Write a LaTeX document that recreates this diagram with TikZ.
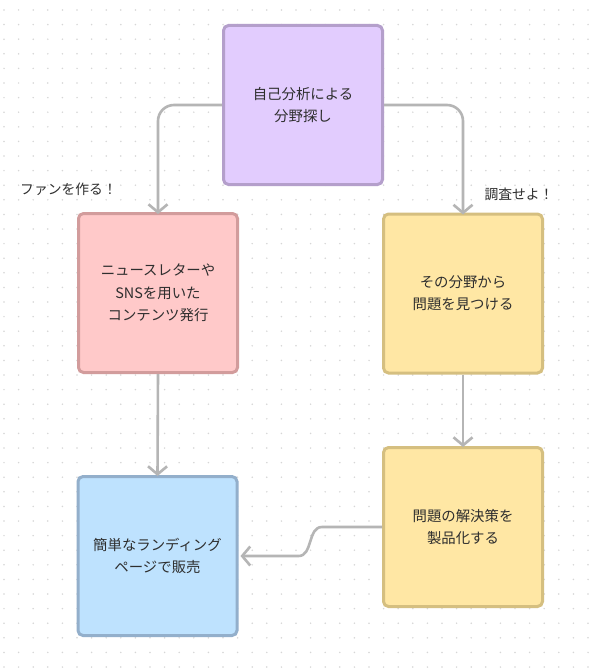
\documentclass[tikz,border=0pt]{standalone}
\usepackage{fontspec}
\setmainfont{Noto Sans CJK JP}
\usetikzlibrary{arrows.meta,calc}
\definecolor{bg}{HTML}{FFFFFF}
\definecolor{dotc}{HTML}{D6D6D6}
\definecolor{txt}{HTML}{2E2E2E}
\definecolor{conc}{HTML}{B5B5B5}
\definecolor{pfill}{HTML}{E2CCFE}\definecolor{pline}{HTML}{B49FCB}
\definecolor{rfill}{HTML}{FFC9C9}\definecolor{rline}{HTML}{D29C9C}
\definecolor{yfill}{HTML}{FFE7A4}\definecolor{yline}{HTML}{D5BF80}
\definecolor{bfill}{HTML}{BEE2FE}\definecolor{bline}{HTML}{93AFCB}
\tikzset{
  card/.style={rectangle, rounded corners=5pt, line width=3pt, minimum width=159pt, minimum height=159pt,
    text=txt, align=center, font=\fontsize{14.4pt}{22.3pt}\selectfont},
  conn/.style={draw=conc, line width=2.6pt, rounded corners=16pt,
    -{Straight Barb[length=8pt,width=19pt]}},
  lbl/.style={text=txt, font=\fontsize{13.8pt}{16pt}\selectfont, inner sep=0pt},
}
\begin{document}
\begin{tikzpicture}[x=1pt,y=-1pt]
\useasboundingbox (0,0) rectangle (596,669);
\fill[bg] (0,0) rectangle (596,669);
\foreach \i in {0,...,40}{\foreach \j in {0,...,45}{
  \fill[dotc] ({4+14.6*\i},{10+14.6*\j}) circle (0.85pt);}}
\node[card, fill=pfill, draw=pline] (top) at (303,105) {自己分析による\\分野探し};
\node[card, fill=rfill, draw=rline] (fan) at (158,293) {ニュースレターや\\SNSを用いた\\コンテンツ発行};
\node[card, fill=yfill, draw=yline] (prob) at (463,293.5) {その分野から\\問題を見つける};
\node[card, fill=yfill, draw=yline] (sol) at (463,527) {問題の解決策を\\製品化する};
\node[card, fill=bfill, draw=bline] (sell) at (157.5,556) {簡単なランディング\\ページで販売};
\node[lbl] (l1) at (68.5,189) {ファンを作る！};
\node[lbl] (l2) at (519,194.5) {調査せよ！};
\draw[conn] (top.west) -| ([yshift=-2pt]fan.north);
\draw[conn] (top.east) -| ([yshift=-2pt]prob.north);
\draw[conn] (fan.south) -- ([yshift=-1pt]sell.north);
\draw[conn] (prob.south) -- ([yshift=-1pt]sol.north);
\coordinate (c1) at ($(sol.west)+(-60,0)$);
\coordinate (c2) at ($(sell.east)+(60,0)$);
\draw[conn, rounded corners=0pt] (sol.west) -- (c1) to[out=180,in=0] (c2) -- ([xshift=2pt]sell.east);
\end{tikzpicture}
\end{document}
